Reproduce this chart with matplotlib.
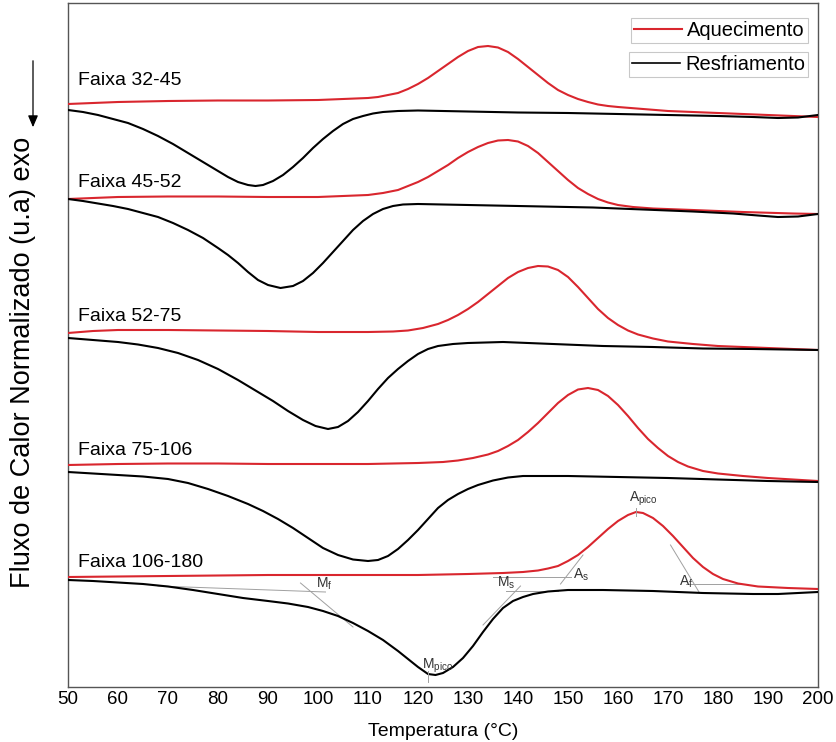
import numpy as np
import matplotlib
matplotlib.use("Agg")
import matplotlib.pyplot as plt
from matplotlib.lines import Line2D
from matplotlib.patches import FancyArrowPatch

plt.rcParams['font.family'] = ['Liberation Sans', 'DejaVu Sans']
plt.rcParams['mathtext.fontset'] = 'custom'
plt.rcParams['mathtext.rm'] = 'Liberation Sans'
plt.rcParams['mathtext.it'] = 'Liberation Sans'

# fluxo de calor em unidades arbitrarias (eixo invertido: exo para baixo)
faixas = ['Faixa 32-45', 'Faixa 45-52', 'Faixa 52-75', 'Faixa 75-106', 'Faixa 106-180']
faixa_y = [80, 182, 316, 450, 562]

# aquecimento
T_aq1 = [50, 60, 70, 80, 90, 100, 105, 110, 112, 114, 116, 118, 120, 122, 124, 126, 128, 130, 132, 134, 136, 138, 140, 142, 144, 146, 148, 150, 152, 154, 156, 158, 160, 165, 170, 180, 190, 200]
aq1 = [104, 102, 101, 100.5, 100.5, 100, 99, 98, 97, 95, 93, 89, 84, 78, 71, 64, 57, 51, 47, 46, 47.5, 52, 59, 67, 75, 83, 90, 95, 99, 102, 104.5, 106, 107, 109, 111, 113, 115, 117]
T_aq2 = [50, 60, 70, 80, 90, 100, 110, 113, 116, 118, 120, 122, 124, 126, 128, 130, 132, 134, 136, 138, 140, 142, 144, 146, 148, 150, 152, 154, 156, 158, 160, 163, 167, 175, 185, 195, 200]
aq2 = [199, 197, 196.5, 196.5, 197, 197, 195, 193, 190, 186, 182, 177, 171, 165, 158, 152, 147, 143, 140.5, 140, 141.5, 146, 153, 162, 171, 180, 188, 194, 199, 202.5, 205, 207, 208.5, 210, 212, 213.5, 214]
T_aq3 = [50, 55, 60, 70, 80, 90, 100, 110, 115, 118, 121, 124, 126, 128, 130, 132, 134, 136, 138, 140, 142, 144, 146, 148, 150, 152, 154, 156, 158, 160, 162, 164, 167, 170, 175, 180, 190, 200]
aq3 = [333, 331, 330, 330, 330.5, 331, 332, 332, 331.5, 330.5, 328, 324, 320, 315, 309, 302, 294, 286, 278, 272, 268, 266, 266.5, 270, 277, 287, 298, 309, 318, 325, 330.5, 334.5, 338.5, 341.5, 344, 346, 348, 350]
T_aq4 = [50, 60, 70, 80, 90, 100, 110, 120, 125, 128, 131, 134, 136, 138, 140, 142, 144, 146, 148, 150, 152, 154, 156, 158, 160, 162, 164, 166, 168, 170, 172, 174, 177, 180, 185, 190, 200]
aq4 = [465, 464, 463.5, 463.5, 464, 464, 464, 463, 462, 460.5, 458, 454.5, 451, 446, 440, 432, 423, 413, 403, 395, 389.5, 388, 390, 396, 405, 416, 428, 439, 448, 456, 462, 466.5, 471, 473.5, 476, 478, 481]
T_aq5 = [50, 60, 70, 80, 90, 100, 110, 120, 130, 137, 141, 144, 146, 148, 150, 152, 154, 156, 158, 160, 162, 163.6, 165, 167, 169, 171, 173, 175, 177, 179, 181, 184, 188, 194, 200]
aq5 = [577, 576.5, 576, 575.5, 575, 575, 575, 575, 574, 573, 572, 570.5, 568.5, 566, 561, 555, 547, 538, 529, 521, 515, 512, 513, 518, 526, 536, 547, 558, 567, 574, 579, 583.5, 586.5, 588, 589]

# resfriamento
T_rf1 = [50, 53, 56, 59, 62, 65, 68, 71, 74, 77, 80, 82, 84, 86, 87.5, 89, 91, 93, 95, 97, 99, 101, 103, 105, 107, 109, 111, 113, 116, 120, 130, 140, 150, 160, 170, 180, 187, 192, 196, 200]
rf1 = [110, 112, 115, 119, 123, 129, 136, 144, 153, 162, 171, 177, 182, 185, 186, 185, 181, 175, 167, 158, 148, 139, 131, 124, 119, 116, 113.5, 112, 111, 110.5, 111.5, 112.5, 113, 114, 115, 116, 117, 118, 117.5, 115]
T_rf2 = [50, 53, 56, 59, 62, 65, 68, 71, 74, 77, 80, 82, 84, 86, 88, 90, 92.5, 95, 97, 99, 101, 103, 105, 107, 109, 111, 113, 115, 117, 120, 125, 135, 145, 155, 165, 175, 183, 188, 192, 196, 200]
rf2 = [199, 201, 203.5, 206, 209, 213, 217, 223, 230, 238, 248, 255, 263, 272, 280, 285, 288, 286, 281, 273, 263, 252, 241, 230, 221, 214, 209, 206, 204.5, 204, 204.5, 205.5, 206.5, 207.5, 209.5, 211.5, 213.5, 215.5, 217, 216.5, 214]
T_rf3 = [50, 55, 60, 64, 68, 72, 76, 80, 84, 88, 91, 94, 97, 99.5, 102, 104, 106, 108, 110, 112, 114, 116, 118, 120, 122, 124, 127, 130, 137, 147, 157, 167, 177, 187, 200]
rf3 = [338, 340, 342, 344.5, 348, 353, 360, 369, 380, 392, 401, 411, 420, 426, 429, 427, 421, 412, 401, 389, 378, 369, 361, 354, 349, 346, 344, 343, 342, 344, 346, 347, 348.5, 349, 350]
T_rf4 = [50, 55, 60, 65, 70, 74, 78, 82, 86, 89, 92, 95, 98, 101, 104, 107, 110, 112, 114, 116, 118, 120, 122, 124, 126, 128, 130, 132, 135, 138, 141, 150, 160, 170, 180, 190, 200]
rf4 = [472, 473.5, 475, 476.5, 479, 483, 489, 496, 504, 511, 519, 528, 538, 548, 555, 559.5, 561, 560, 556, 549, 540, 530, 519, 508, 500, 494, 489, 485, 480.5, 477.5, 476, 476, 477, 478, 479.5, 481, 482]
T_rf5 = [50, 55, 60, 65, 70, 75, 80, 85, 90, 94, 98, 101, 104, 107, 110, 113, 116, 118, 120, 122, 123.5, 125, 127, 129, 131, 133, 135, 137, 139, 141, 143, 146, 150, 157, 167, 177, 187, 192, 196, 200]
rf5 = [580, 581, 582.5, 584, 586.5, 590, 594, 598, 601, 603.5, 607, 611, 616, 623, 631, 640, 651, 659, 667, 674, 675, 673, 667, 658, 646, 632, 619, 608, 601, 597, 594, 591.5, 590, 590, 591, 593, 594, 594, 593, 592]

aquecimento = [(T_aq1, aq1), (T_aq2, aq2), (T_aq3, aq3), (T_aq4, aq4), (T_aq5, aq5)]
resfriamento = [(T_rf1, rf1), (T_rf2, rf2), (T_rf3, rf3), (T_rf4, rf4), (T_rf5, rf5)]

# linhas auxiliares (tangentes / linhas de base) da faixa 106-180
tangentes = [
    ([68, 101.5], [586, 592]),       # base Mf
    ([96.5, 107], [583, 627]),       # tangente Mf
    ([133, 140.5], [625, 586]),      # tangente Ms
    ([137.5, 148], [590.5, 590.5]),  # base Ms
    ([135, 150.5], [577, 577]),      # base As
    ([148.5, 153], [584, 555]),      # tangente As
    ([170.5, 176.2], [545, 592]),    # tangente Af
    ([173.5, 185], [584, 584]),      # base Af
]
rotulos = [('M', 'f', 99.6, 592), ('M', 's', 135.8, 591), ('A', 's', 151.0, 583),
           ('A', 'f', 172.2, 590), ('A', 'pico', 162.2, 508), ('M', 'pico', 120.8, 675)]
marcas = [(163.6, 508, 516), (122.0, 671, 682)]

vermelho = '#d9262e'

fig = plt.figure(figsize=(8.36, 7.42), dpi=100)
ax = fig.add_axes([68 / 836, 55 / 742, 750 / 836, 684 / 742])

for T, y in aquecimento:
    ax.plot(T, y, color=vermelho, lw=1.5, zorder=3, solid_joinstyle='round')
for T, y in resfriamento:
    ax.plot(T, y, color='black', lw=1.5, zorder=3, solid_joinstyle='round')

for xs, ys in tangentes:
    ax.plot(xs, ys, color='#a0a0a0', lw=0.7, zorder=2)
for x, y0, y1 in marcas:
    ax.plot([x, x], [y0, y1], color='#a0a0a0', lw=0.7, zorder=4)
for letra, sub, x, y in rotulos:
    ax.text(x, y, r'$\mathrm{%s}_{\mathrm{%s}}$' % (letra, sub), fontsize=10,
            color='#333333', ha='left', va='bottom', zorder=5)

for nome, y in zip(faixas, faixa_y):
    ax.text(52, y, nome, fontsize=14, ha='left', va='center')

ax.set_xlim(50, 200)
ax.set_ylim(687, 3)
ax.set_xticks(np.arange(50, 201, 10))
ax.set_yticks([])
ax.tick_params(axis='x', length=0, pad=3, labelsize=13.5)
for s in ax.spines.values():
    s.set_color('#555555')
    s.set_linewidth(1.0)
ax.set_xlabel('Temperatura (\u00b0C)', fontsize=14, labelpad=11)

# legenda: cada item em sua propria caixa
h_aq = Line2D([], [], color=vermelho, lw=1.5)
h_rf = Line2D([], [], color='black', lw=1.2)
estilo = dict(loc='upper right', fontsize=14.5, frameon=True, fancybox=False, borderpad=0.15,
              handlelength=2.4, handletextpad=0.25, borderaxespad=0)
leg1 = ax.legend([h_aq], ['Aquecimento'], bbox_to_anchor=(0.9867, 0.978), **estilo)
leg1.get_frame().set_edgecolor('#bbbbbb')
leg1.get_frame().set_linewidth(0.8)
ax.add_artist(leg1)
leg2 = ax.legend([h_rf], ['Resfriamento'], bbox_to_anchor=(0.9867, 0.928), **estilo)
leg2.get_frame().set_edgecolor('#bbbbbb')
leg2.get_frame().set_linewidth(0.8)

fig.text(0.027, 0.511, 'Fluxo de Calor Normalizado (u.a) exo', rotation=90,
         fontsize=19.5, ha='center', va='center')
fig.add_artist(FancyArrowPatch(
    (33 / 836, 1 - 58 / 742), (33 / 836, 1 - 130 / 742), transform=fig.transFigure,
    arrowstyle='-|>,head_length=7,head_width=3', color='black', lw=0.9))

fig.savefig('out.png', dpi=100)
